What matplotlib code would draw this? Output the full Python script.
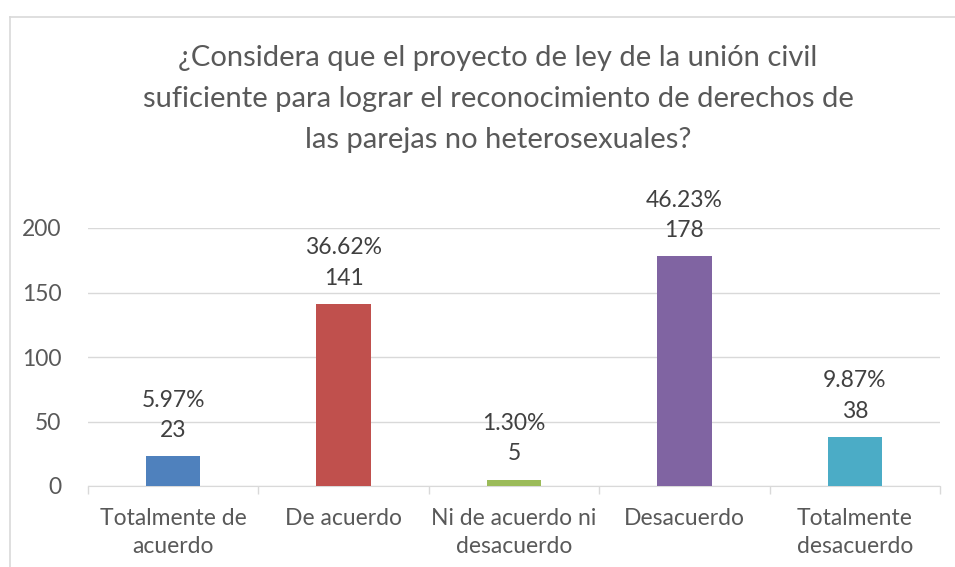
import matplotlib
matplotlib.use("Agg")
import matplotlib.pyplot as plt
from matplotlib.lines import Line2D

categories = ["Totalmente de\nacuerdo", "De acuerdo", "Ni de acuerdo ni\ndesacuerdo",
              "Desacuerdo", "Totalmente\ndesacuerdo"]
counts = [23, 141, 5, 178, 38]
percents = ["5.97%", "36.62%", "1.30%", "46.23%", "9.87%"]
colors = ["#4F81BD", "#C0504D", "#9BBB59", "#8064A2", "#4BACC6"]
yticks = [0, 50, 100, 150, 200]
title = ("¿Considera que el proyecto de ley de la unión civil\n"
         "suficiente para lograr el reconocimiento de derechos de\n"
         "las parejas no heterosexuales?")

plt.rcParams["font.family"] = ["Lato", "DejaVu Sans"]
GRID = "#d9d9d9"
TXT = "#595959"
FS = 16.5

fig = plt.figure(figsize=(9.55, 5.67), dpi=100)
ax = fig.add_axes([88 / 955, 1 - 486 / 567, (940 - 88) / 955, (486 - 228) / 567])

x = range(len(categories))
ax.bar(x, counts, width=0.32, color=colors, zorder=3)
for i, (c, p) in enumerate(zip(counts, percents)):
    ax.annotate(f"{p}\n{c}", (i, c), xytext=(0, 11), textcoords="offset points",
                ha="center", va="bottom", fontsize=FS, color="#404040",
                linespacing=1.55)

ax.set_xlim(-0.5, len(categories) - 0.5)
ax.set_ylim(0, 200)
ax.set_yticks(yticks)
ax.set_yticklabels([str(v) for v in yticks], fontsize=FS, color=TXT)
ax.set_xticks(list(x))
ax.set_xticklabels(categories, fontsize=FS, color=TXT, linespacing=1.4)
ax.set_xticks([i - 0.5 for i in range(len(categories) + 1)], minor=True)
ax.tick_params(axis="x", which="major", length=0, pad=16)
ax.tick_params(axis="x", which="minor", length=6, color=GRID, width=1)
ax.tick_params(axis="y", length=0, pad=19)
ax.grid(axis="y", color=GRID, lw=1, zorder=0)
for sp in ("top", "right", "left"):
    ax.spines[sp].set_visible(False)
ax.spines["bottom"].set_color(GRID)

fig.text(498 / 955, 1 - 99 / 567, title, ha="center", va="center",
         fontsize=21, color=TXT, linespacing=1.7)

# chart frame (only the top and left edges are in view)
fig.add_artist(Line2D([10 / 955, 1], [1 - 17 / 567, 1 - 17 / 567], color=GRID, lw=1.2,
                      transform=fig.transFigure))
fig.add_artist(Line2D([10 / 955, 10 / 955], [0, 1 - 17 / 567], color=GRID, lw=1.2,
                      transform=fig.transFigure))

fig.savefig("out.png", dpi=100)
